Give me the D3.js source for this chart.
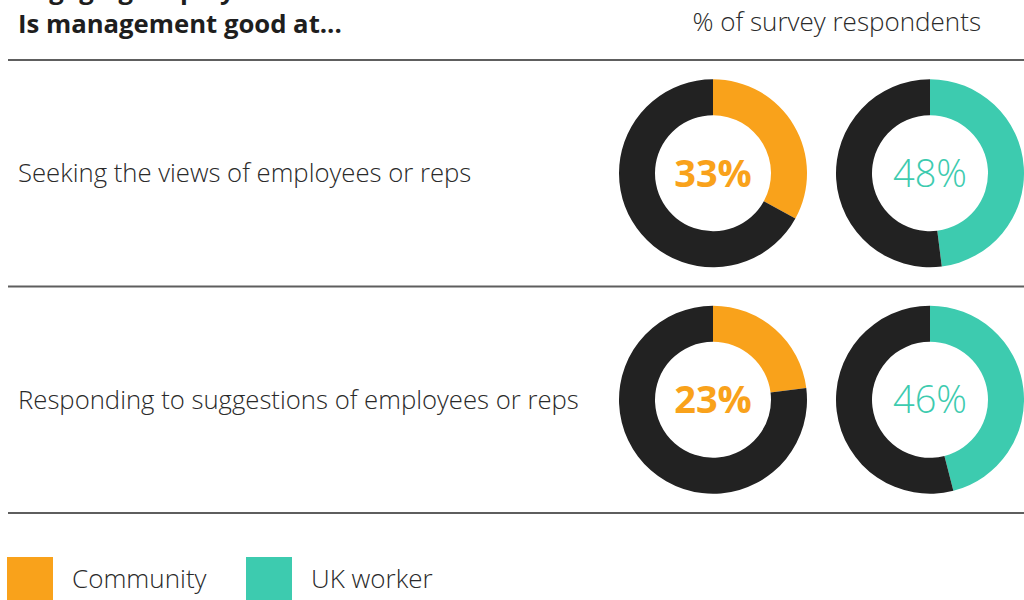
<!DOCTYPE html>
<html>
<head>
<meta charset="utf-8">
<script src="https://cdn.jsdelivr.net/npm/d3@7"></script>
<style>
  html, body { margin: 0; padding: 0; background: #fff; }
  svg { display: block; }
  text { font-family: "Open Sans", "Lato", sans-serif; fill: #2a2a2a; }
</style>
</head>
<body>
<svg id="chart" width="1024" height="600"></svg>
<script>
// Survey results: share answering "yes" per question and group
const questions = [
  "Seeking the views of employees or reps",
  "Responding to suggestions of employees or reps"
];
const groups = ["Community", "UK worker"];
const community = [33, 23];
const ukWorker = [48, 46];
const titleLines = ["Engaging employees", "Is management good at..."];
const unitLabel = "% of survey respondents";

const colors = { "Community": "#F9A21B", "UK worker": "#3DCBAF" };
const restColor = "#222222";

const W = 1024, H = 600;
const svg = d3.select("#chart");

// Title (first line runs off the top edge)
svg.selectAll("text.title").data(titleLines).join("text")
  .attr("class", "title")
  .attr("x", 18).attr("y", (d, i) => -1 + i * 34)
  .style("font-weight", 700).style("font-size", "25.7px").style("fill", "#1e1e1e")
  .text(d => d);

svg.append("text").attr("x", 981).attr("y", 31).attr("text-anchor", "end")
  .style("font-weight", 300).style("font-size", "26px")
  .text(unitLabel);

// Rows
const y = d3.scaleBand().domain(questions).range([60, 513]);
const x = d3.scalePoint().domain(groups).range([713, 930]);

// Dividers
const dividerYs = [60].concat(questions.map(q => y(q) + y.bandwidth()));
svg.selectAll("line.divider").data(dividerYs).join("line")
  .attr("class", "divider")
  .attr("x1", 8).attr("x2", W)
  .attr("y1", d => d).attr("y2", d => d)
  .attr("stroke", "#5e5e5e").attr("stroke-width", 2);

// Row labels
svg.selectAll("text.q").data(questions).join("text")
  .attr("class", "q")
  .attr("x", 18)
  .attr("y", d => y(d) + y.bandwidth() / 2)
  .attr("dy", "0.35em")
  .style("font-weight", 300).style("font-size", "25.7px")
  .text(d => d);

// Donuts
const pie = d3.pie().sort(null).value(d => d.v);
const arc = d3.arc().innerRadius(58).outerRadius(94);

const cells = [];
questions.forEach((q, i) => {
  cells.push({ q, g: "Community", v: community[i] });
  cells.push({ q, g: "UK worker", v: ukWorker[i] });
});

const donut = svg.selectAll("g.donut").data(cells).join("g")
  .attr("class", "donut")
  .attr("transform", d => `translate(${x(d.g)},${y(d.q) + y.bandwidth() / 2})`);

donut.selectAll("path")
  .data(d => pie([{ v: d.v, c: colors[d.g] }, { v: 100 - d.v, c: restColor }]))
  .join("path")
  .attr("d", arc)
  .attr("fill", d => d.data.c);

donut.append("text")
  .attr("text-anchor", "middle")
  .attr("dy", "0.36em")
  .style("font-size", "38px")
  .style("font-weight", d => d.g === "Community" ? 700 : 300)
  .style("fill", d => colors[d.g])
  .text(d => d.v + "%");

// Legend
const legend = svg.selectAll("g.legend").data(groups).join("g")
  .attr("class", "legend")
  .attr("transform", (d, i) => `translate(${[7, 246][i]},557)`);
legend.append("rect").attr("width", 46).attr("height", 46)
  .attr("fill", d => colors[d]);
legend.append("text").attr("x", 65).attr("y", 22).attr("dy", "0.35em")
  .style("font-weight", 300).style("font-size", "26px")
  .text(d => d);
</script>
</body>
</html>
